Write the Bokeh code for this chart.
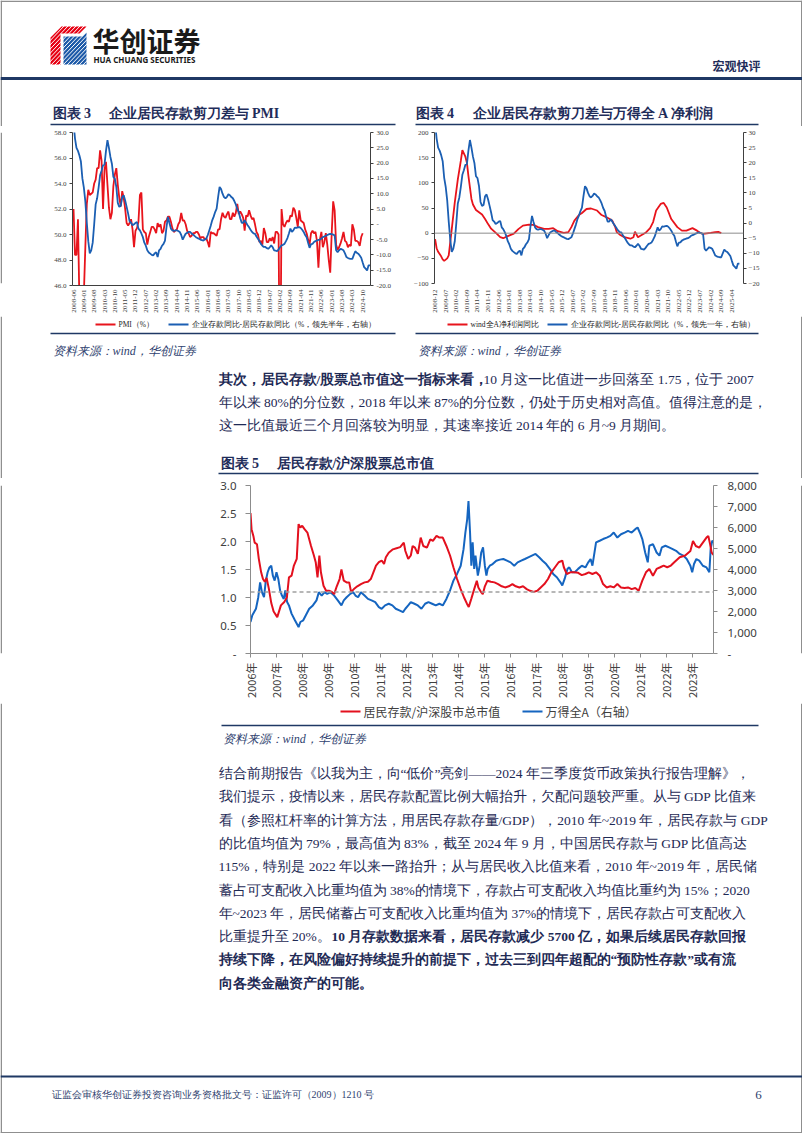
import math
from bokeh.plotting import figure
from bokeh.models import (Range1d, LinearAxis, FixedTicker, Span, Spacer, NumeralTickFormatter)
from bokeh.layouts import column, row
from bokeh.embed import file_html
from bokeh.resources import INLINE
from bokeh.core.properties import value

# ---------------- data: chart 3 / 4 ----------------
pmi_start = "2008-06"
pmi = [52.0, 48.4, 48.4, 51.2, 44.6, 38.8, 41.2,
       45.3, 49.0, 52.4, 53.5, 53.1, 53.2, 53.3, 54.0, 54.3, 55.2, 55.2, 56.6,
       55.8, 52.0, 55.1, 55.7, 53.9, 52.1, 51.2, 51.7, 53.8, 54.7, 55.2, 53.9,
       52.9, 52.2, 53.4, 52.9, 52.0, 50.9, 50.7, 50.9, 51.2, 50.4, 49.0, 50.3,
       50.5, 51.0, 53.1, 53.3, 50.4, 50.2, 50.1, 49.2, 49.8, 50.2, 50.6, 50.6,
       50.4, 50.1, 50.9, 50.6, 50.8, 50.1, 50.3, 51.0, 51.1, 51.4, 51.4, 51.0,
       50.5, 50.2, 50.3, 50.4, 50.8, 51.0, 51.7, 51.1, 51.1, 50.8, 50.3, 50.1,
       49.8, 49.9, 50.1, 50.1, 50.2, 50.2, 50.0, 49.7, 49.8, 49.8, 49.6, 49.7,
       49.4, 49.0, 50.2, 50.1, 50.1, 50.0, 49.9, 50.4, 50.4, 51.2, 51.7, 51.4,
       51.3, 51.6, 51.8, 51.2, 51.2, 51.7, 51.4, 51.7, 52.4, 51.6, 51.8, 51.6,
       51.3, 50.3, 51.5, 51.4, 51.9, 51.5, 51.2, 51.3, 50.8, 50.2, 50.0, 49.4,
       49.5, 49.2, 50.5, 50.1, 49.4, 49.4, 49.7, 49.5, 49.8, 49.3, 50.2, 50.2,
       50.0, 35.7, 52.0, 50.8, 50.6, 50.9, 51.1, 51.0, 51.5, 51.4, 52.1, 51.9,
       51.3, 50.6, 51.9, 51.1, 51.0, 50.9, 50.4, 50.1, 49.6, 49.2, 50.1, 50.3,
       50.1, 50.2, 49.5, 47.4, 49.6, 50.2, 49.0, 49.4, 50.1, 49.2, 48.0, 47.0,
       50.1, 52.6, 51.9, 49.2, 48.8, 49.0, 49.3, 49.7, 50.2, 49.5, 49.4, 49.0,
       49.2, 49.1, 50.8, 50.4, 49.5, 49.5, 49.4, 49.1, 49.8, 50.1]

# corporate deposit yoy minus household deposit yoy (monthly)
scissors = [33.0, 28.0, 25.0, 24.0, 22.5, 20.5, 15.0, 12.0, 7.5, 0.5,
            -5.5, -9.5, -8.5, -6.0, 0.0, 6.5, 8.5, 12.0, 16.0, 17.5,
            19.3, 19.5, 24.0, 27.5, 25.0, 22.0, 19.8, 15.5, 14.9, 12.2,
            7.0, 5.7, 6.0, 8.9, 9.5, 7.8, 5.7, 3.5, 1.0, 0.5,
            -0.3, 0.0, 0.5, 0.7, -1.4, -2.0, -3.0, -4.2, -6.0, -7.0,
            -8.5, -9.2, -9.6, -10.0, -10.2, -9.5, -9.1, -10.7, -8.5, -8.0,
            -7.0, -6.4, -5.3, -1.0, 2.4, 0.4, -1.4, -2.0, -2.2, -2.0,
            -2.0, -2.2, -2.5, -3.5, -5.0, -4.0, -3.1, -2.8, -2.5, -2.5,
            -3.0, -3.3, -3.8, -4.2, -4.5, -4.7, -5.0, -5.2, -5.3, -5.0,
            -4.7, -3.5, -2.0, -0.5, 1.3, 2.5, 4.0, 5.1, 8.9, 12.2,
            11.5, 10.0, 8.9, 8.5, 9.0, 9.8, 9.5, 8.9, 8.5, 7.6,
            6.5, 5.0, 4.0, 2.0, 0.5, 0.5, 1.3, 0.5, -0.3, -1.0,
            -1.8, -2.5, -3.0, -3.1, -4.0, -4.7, -5.5, -6.4, -7.0, -7.4,
            -7.4, -7.8, -8.0, -7.5, -6.9, -7.5, -8.5, -8.6, -8.8, -8.2,
            -7.5, -6.9, -6.7, -6.4, -5.5, -4.5, -3.0, -1.4, -2.5, -2.0,
            -1.1, -1.2, -1.0, -0.9, -1.2, -1.8, -2.5, -3.5, -4.2, -6.0,
            -7.7, -6.5, -6.4, -5.8, -5.5, -5.3, -5.1, -5.0, -4.7, -4.2,
            -4.0, -3.8, -3.5, -3.3, -3.1, -3.2, -3.4, -3.6, -8.5, -9.1,
            -8.5, -8.0, -8.2, -8.5, -9.5, -10.7, -11.0, -11.2, -11.3, -11.3,
            -10.0, -8.8, -9.3, -9.6, -10.2, -10.9, -12.5, -14.0, -14.5, -15.1,
            -13.4, -13.4]
scissors_lead6_start = "2008-06"    # chart 3: led by half a year
scissors_lead12_start = "2008-12"   # chart 4: led by one year

profit_dates = ["2008-12", "2009-01", "2009-02", "2009-04", "2009-05", "2009-06", "2009-08", "2009-09",
                "2009-11", "2010-01", "2010-03", "2010-05", "2010-06", "2010-08", "2010-09", "2010-10",
                "2010-12", "2011-01", "2011-03", "2011-07", "2011-09", "2011-11", "2012-01", "2012-05",
                "2012-07", "2012-09", "2012-12", "2013-04", "2013-07", "2013-10", "2014-02", "2014-05",
                "2014-08", "2014-12", "2015-03", "2015-06", "2015-09", "2016-01", "2016-04", "2016-06",
                "2016-08", "2016-11", "2017-01", "2017-04", "2017-07", "2017-11", "2018-02", "2018-05",
                "2018-09", "2018-11", "2018-12", "2019-02", "2019-05", "2019-09", "2019-11", "2019-12",
                "2020-02", "2020-03", "2020-07", "2020-10", "2020-12", "2021-02", "2021-05", "2021-07",
                "2021-09", "2021-12", "2022-04", "2022-07", "2022-10", "2023-02", "2023-05", "2023-07",
                "2023-09", "2024-02", "2024-05", "2024-07", "2024-09"]
profit_yoy = [-12, -30, -37, -46, -52, -55, -50, -44, 8, 61, 107, 144, 165, 152, 140, 114,
              68, 57, 46, 37, 28, 18, 9, -2, -8, -10, -6, -1, 8, 15, 17, 16.5,
              12, 8.6, 8.6, 10, 4, 0.7, 2, 12, 25, 36, 40, 48, 49, 45, 36, 32,
              25, 12, 2, -3, -8, -11, -8, 3, -8, -6, 0.7, 10, 22, 45, 58, 60,
              51, 28, 12, 5, 5, 10, 5, 0.7, -1.3, 0.7, 2, 2.6, 0]

c3_tick_labels = ["2008-06", "2009-01", "2009-08", "2010-03", "2010-10", "2011-05", "2011-12", "2012-07",
                  "2013-02", "2013-09", "2014-04", "2014-11", "2015-06", "2016-01", "2016-08", "2017-03",
                  "2017-10", "2018-05", "2018-12", "2019-07", "2020-02", "2020-09", "2021-04", "2021-11",
                  "2022-06", "2023-01", "2023-08", "2024-03", "2024-10"]
c4_tick_labels = ["2008-12", "2009-07", "2010-02", "2010-09", "2011-04", "2011-11", "2012-06", "2013-01",
                  "2013-08", "2014-03", "2014-10", "2015-05", "2015-12", "2016-07", "2017-02", "2017-09",
                  "2018-04", "2018-11", "2019-06", "2020-01", "2020-08", "2021-03", "2021-10", "2022-05",
                  "2022-12", "2023-07", "2024-02", "2024-09", "2025-04"]
c3_left_ticks = [46, 48, 50, 52, 54, 56, 58]
c3_right_ticks = [-20, -15, -10, -5, 0, 5, 10, 15, 20, 25, 30]
c4_left_ticks = [-100, -50, 0, 50, 100, 150, 200]
c4_right_ticks = [-20, -15, -10, -5, 0, 5, 10, 15, 20, 25, 30]
c3_series_names = ["PMI（%）", "企业存款同比-居民存款同比（%，领先半年，右轴）"]
c4_series_names = ["wind全A净利润同比", "企业存款同比-居民存款同比（%，领先一年，右轴）"]

# ---------------- data: chart 5 ----------------
ratio_t = [2006.00, 2006.04, 2006.11, 2006.16, 2006.25, 2006.32, 2006.41, 2006.48, 2006.55, 2006.62,
           2006.71, 2006.80, 2006.89, 2007.03, 2007.17, 2007.30, 2007.40, 2007.48, 2007.58, 2007.67,
           2007.78, 2007.85, 2007.92, 2007.99, 2008.08, 2008.19, 2008.33, 2008.44, 2008.51, 2008.58,
           2008.65, 2008.71, 2008.81, 2008.91, 2009.02, 2009.13, 2009.22, 2009.32, 2009.43, 2009.50,
           2009.59, 2009.70, 2009.80, 2009.87, 2009.98, 2010.11, 2010.25, 2010.39, 2010.52, 2010.63,
           2010.73, 2010.83, 2010.94, 2011.05, 2011.14, 2011.21, 2011.32, 2011.48, 2011.62, 2011.76,
           2011.90, 2011.96, 2012.07, 2012.17, 2012.24, 2012.33, 2012.44, 2012.55, 2012.65, 2012.79,
           2012.92, 2013.02, 2013.16, 2013.27, 2013.40, 2013.54, 2013.68, 2013.81, 2013.95, 2014.09,
           2014.22, 2014.33, 2014.40, 2014.50, 2014.61, 2014.71, 2014.77, 2014.87, 2014.94, 2015.02,
           2015.12, 2015.25, 2015.39, 2015.53, 2015.67, 2015.80, 2015.94, 2016.08, 2016.21, 2016.35,
           2016.49, 2016.63, 2016.76, 2016.90, 2017.04, 2017.17, 2017.31, 2017.45, 2017.58, 2017.72,
           2017.86, 2018.00, 2018.06, 2018.17, 2018.31, 2018.45, 2018.61, 2018.75, 2018.89, 2019.02,
           2019.16, 2019.30, 2019.44, 2019.57, 2019.71, 2019.85, 2019.98, 2020.12, 2020.26, 2020.40,
           2020.53, 2020.67, 2020.81, 2020.94, 2021.08, 2021.22, 2021.35, 2021.49, 2021.63, 2021.77,
           2021.90, 2022.04, 2022.18, 2022.31, 2022.52, 2022.73, 2022.93, 2023.03, 2023.14, 2023.27,
           2023.41, 2023.55, 2023.62, 2023.69, 2023.75, 2023.82]
ratio = [2.51, 2.22, 2.10, 1.98, 1.95, 1.69, 1.45, 1.33, 1.28, 1.35,
         1.15, 0.90, 0.75, 0.65, 0.86, 0.92, 1.00, 1.36, 1.39, 1.57,
         1.69, 2.31, 2.25, 2.28, 2.22, 2.16, 1.92, 1.75, 1.63, 1.36,
         1.75, 1.45, 1.21, 1.12, 1.12, 1.10, 1.06, 1.20, 1.33, 1.50,
         1.30, 1.27, 1.27, 1.10, 1.15, 1.20, 1.24, 1.27, 1.28, 1.33,
         1.45, 1.57, 1.63, 1.66, 1.60, 1.72, 1.80, 1.86, 1.88, 1.90,
         1.98, 1.83, 1.69, 1.75, 1.92, 1.89, 1.78, 2.07, 1.92, 1.89,
         2.04, 2.01, 2.10, 2.07, 2.07, 1.92, 1.75, 1.54, 1.33, 1.15,
         1.00, 0.89, 0.83, 0.98, 1.15, 1.30, 1.18, 1.10, 1.06, 1.20,
         1.30, 1.28, 1.27, 1.24, 1.20, 1.18, 1.20, 1.24, 1.20, 1.18,
         1.20, 1.15, 1.12, 1.10, 1.12, 1.18, 1.24, 1.33, 1.45, 1.54,
         1.63, 1.66, 1.54, 1.42, 1.45, 1.45, 1.44, 1.40, 1.42, 1.45,
         1.42, 1.45, 1.39, 1.24, 1.18, 1.20, 1.18, 1.24, 1.18, 1.17,
         1.18, 1.15, 1.17, 1.12, 1.30, 1.45, 1.51, 1.39, 1.51, 1.54,
         1.57, 1.54, 1.57, 1.63, 1.72, 1.75, 1.83, 2.01, 1.92, 1.89,
         1.98, 2.07, 2.10, 1.95, 1.80, 1.76]
wind_t = [2006.00, 2006.07, 2006.21, 2006.30, 2006.37, 2006.44, 2006.52, 2006.59, 2006.66, 2006.73,
          2006.80, 2006.86, 2006.93, 2007.00, 2007.07, 2007.14, 2007.21, 2007.28, 2007.34, 2007.41,
          2007.48, 2007.58, 2007.71, 2007.85, 2007.92, 2008.03, 2008.13, 2008.26, 2008.40, 2008.54,
          2008.63, 2008.74, 2008.85, 2008.95, 2009.08, 2009.22, 2009.36, 2009.50, 2009.59, 2009.70,
          2009.84, 2009.95, 2010.04, 2010.14, 2010.25, 2010.39, 2010.52, 2010.66, 2010.80, 2010.94,
          2011.05, 2011.18, 2011.32, 2011.46, 2011.59, 2011.73, 2011.87, 2011.96, 2012.07, 2012.17,
          2012.31, 2012.44, 2012.58, 2012.72, 2012.85, 2012.99, 2013.13, 2013.27, 2013.40, 2013.54,
          2013.68, 2013.81, 2013.95, 2014.09, 2014.20, 2014.27, 2014.34, 2014.39, 2014.45, 2014.50,
          2014.55, 2014.61, 2014.66, 2014.75, 2014.82, 2014.88, 2014.95, 2015.02, 2015.08, 2015.13,
          2015.21, 2015.32, 2015.46, 2015.60, 2015.73, 2015.87, 2016.01, 2016.15, 2016.28, 2016.42,
          2016.56, 2016.69, 2016.83, 2016.97, 2017.11, 2017.24, 2017.38, 2017.52, 2017.65, 2017.79,
          2017.93, 2018.00, 2018.09, 2018.20, 2018.27, 2018.37, 2018.48, 2018.61, 2018.75, 2018.89,
          2019.00, 2019.09, 2019.16, 2019.30, 2019.44, 2019.57, 2019.71, 2019.85, 2019.98, 2020.12,
          2020.26, 2020.40, 2020.53, 2020.67, 2020.81, 2020.90, 2021.01, 2021.08, 2021.19, 2021.29,
          2021.35, 2021.49, 2021.63, 2021.74, 2021.83, 2021.97, 2022.11, 2022.25, 2022.38, 2022.52,
          2022.66, 2022.79, 2022.93, 2023.00, 2023.07, 2023.16, 2023.27, 2023.41, 2023.55, 2023.66,
          2023.71, 2023.77, 2023.82]
wind_a = [1500, 1820, 2130, 2680, 3390, 2920, 2680, 3470, 3870, 4100,
          4180, 3710, 3470, 3870, 3550, 3000, 2760, 2600, 3000, 2450,
          2290, 1900, 1580, 1260, 1500, 1580, 1820, 2130, 2290, 2530,
          2920, 2760, 2920, 2840, 2920, 2760, 2530, 2290, 2530, 2680,
          2840, 2920, 2760, 2680, 2920, 2760, 2600, 2530, 2450, 2210,
          2130, 2290, 2370, 2290, 2130, 2050, 1970, 2130, 2290, 2450,
          2370, 2290, 2130, 2370, 2450, 2370, 2290, 2370, 2290, 2600,
          3000, 3470, 3790, 4180, 4970, 5760, 6390, 7260, 5760, 4180,
          5290, 4030, 4660, 3710, 4180, 4810, 5050, 4180, 3710, 4030,
          4180, 4260, 4420, 4470, 4500, 4420, 4340, 4180, 4340, 4420,
          4500, 4580, 4660, 4740, 4580, 4420, 4260, 4030, 3790, 3630,
          3390, 3240, 3550, 4030, 4100, 3870, 3870, 4030, 4180, 4100,
          4340, 4500, 4180, 5290, 5370, 5450, 5520, 5600, 5760, 5520,
          5680, 5760, 5840, 5760, 5920, 6000, 5680, 5450, 4810, 4340,
          5130, 5210, 4810, 4660, 5050, 5130, 5050, 4970, 4890, 4740,
          4660, 4500, 4180, 3870, 4260, 4500, 4420, 4180, 4100, 3870,
          4970, 5370, 5290]
ratio_ref_level = 1.1
c5_year_labels = ["2006年", "2007年", "2008年", "2009年", "2010年", "2011年", "2012年", "2013年", "2014年",
                  "2015年", "2016年", "2017年", "2018年", "2019年", "2020年", "2021年", "2022年", "2023年"]
c5_left_ticks = [0, 0.5, 1.0, 1.5, 2.0, 2.5, 3.0]
c5_right_ticks = [0, 1000, 2000, 3000, 4000, 5000, 6000, 7000, 8000]
c5_series_names = ["居民存款/沪深股市总市值", "万得全A（右轴）"]

# ---------------- styles ----------------
NAVY = "#1F3864"
TXT = "#1E2A55"
TITLE = "#1F2D5A"
SRC = "#2F3F6F"
RED = "#E8141C"
BLUE = "#1B5FB3"
RED5 = "#E3101E"
BLUE5 = "#1565C0"
AX = "#404040"
EDGE = "#8F8F8F"
SERIF = "Liberation Serif"
W = 802
H = 1133


def ym_index(s, base):
    y, m = (int(v) for v in s.split("-"))
    by, bm = (int(v) for v in base.split("-"))
    return (y - by) * 12 + (m - bm)


def canvas(top, bottom, x0=0, x1=W):
    p = figure(width=x1 - x0, height=bottom - top, x_range=Range1d(x0, x1), y_range=Range1d(bottom, top),
               output_backend="svg", toolbar_location=None, min_border=0,
               x_axis_type=None, y_axis_type=None)
    p.outline_line_color = None
    # thin grey page edge, as on the scanned page
    if x0 == 0:
        p.line(x=[0.75, 0.75], y=[top, bottom], line_color=EDGE, line_width=1.5)
    if x1 == W:
        p.line(x=[W - 0.75, W - 0.75], y=[top, bottom], line_color=EDGE, line_width=1.5)
    if top == 0:
        p.line(x=[x0, x1], y=[0.75, 0.75], line_color=EDGE, line_width=1.5)
    if bottom == H:
        p.line(x=[x0, x1], y=[H - 0.75, H - 0.75], line_color=EDGE, line_width=1.5)
    return p


def put(p, x, y, s, size, color=TXT, font=SERIF, style="normal", align="left"):
    p.text(x=[x], y=[y], text=[s], text_font=value(font), text_font_size=f"{size}px",
           text_color=color, text_font_style=style, text_align=align, text_baseline="middle")


def rule(p, x0, x1, y, w, color=NAVY):
    p.line(x=[x0, x1], y=[y, y], line_color=color, line_width=w)


def key(p, x, y, name, color, lw, size, font, tcolor="#222222"):
    # legend key: short line sample followed by the series name
    p.line(x=[x, x + 20], y=[y, y], line_color=color, line_width=lw)
    put(p, x + 23, y, name, size, tcolor, font)


def style_axis(ax, size, font, color=AX, line=AX, tick_out=3, standoff=3):
    ax.major_label_text_font_size = size
    ax.major_label_text_font = font
    ax.major_label_text_color = color
    ax.axis_line_color = line
    ax.major_tick_line_color = line
    ax.major_tick_out = tick_out
    ax.major_tick_in = 0
    ax.minor_tick_line_color = None
    ax.major_label_standoff = standoff


# ---------------- header canvas (page y 0-126) ----------------
hdr = canvas(0, 126)
hdr.patches(xs=[[50, 61, 86, 79, 60, 60, 50], [63, 82, 86, 86, 63]],
            ys=[[37, 26, 26, 33, 33, 64, 64], [36, 36, 32, 64, 64]],
            fill_color=["#E60012", "#1D5AA8"], line_color=None)
hdr.multi_line(xs=[[46 + 4 * k, 84 + 4 * k] for k in range(-10, 11)],
               ys=[[65, 25] for k in range(-10, 11)], line_color="white", line_width=1)
hdr.patches(xs=[[36, 49, 49, 36], [87, 98, 98, 87]], ys=[[20, 20, 70, 70], [20, 20, 70, 70]],
            fill_color="white", line_color=None)
put(hdr, 92, 40, "华创证券", 27, "#1a1a1a", "Noto Sans CJK SC", "bold")
put(hdr, 93, 59, "HUA CHUANG SECURITIES", 8, "#1a1a1a", "Noto Sans", "bold")
put(hdr, 760, 65, "宏观快评", 12, TITLE, "Noto Sans CJK SC", "bold", "right")
rule(hdr, 0, W, 78, 3)
put(hdr, 52, 113, "图表 3", 14, TITLE, SERIF, "bold")
put(hdr, 108, 113, "企业居民存款剪刀差与 PMI", 14, TITLE, SERIF, "bold")
put(hdr, 415, 113, "图表 4", 14, TITLE, SERIF, "bold")
put(hdr, 472, 113, "企业居民存款剪刀差与万得全 A 净利润", 14, TITLE, SERIF, "bold")
rule(hdr, 50, 395, 124, 1.5)
rule(hdr, 415, 758, 124, 1.5)

# ---------------- chart 3 (page y 126-316) ----------------
c3 = figure(frame_width=298, frame_height=153, x_range=Range1d(-0.7, 201.3), y_range=Range1d(46, 58),
            output_backend="svg", toolbar_location=None,
            min_border_left=24, min_border_right=28, min_border_top=5, min_border_bottom=32)
c3.extra_y_ranges = {"r": Range1d(-20, 30)}
c3.add_layout(LinearAxis(y_range_name="r"), "right")
c3.grid.visible = False
c3.outline_line_color = None
pmi_x = [i + ym_index(pmi_start, "2008-06") for i in range(len(pmi))]
sc3_x = [i + ym_index(scissors_lead6_start, "2008-06") for i in range(len(scissors))]
c3.line(pmi_x, pmi, line_color=RED, line_width=1.8)
c3.line(sc3_x, scissors, y_range_name="r", line_color=BLUE, line_width=1.8)
xt = [ym_index(s, "2008-06") for s in c3_tick_labels]
c3.xaxis.ticker = FixedTicker(ticks=xt)
c3.xaxis.major_label_overrides = {t: s for t, s in zip(xt, c3_tick_labels)}
c3.xaxis.major_label_orientation = math.pi / 2
style_axis(c3.xaxis[0], "7px", SERIF, tick_out=0, standoff=4)
la = c3.left[0]
la.ticker = FixedTicker(ticks=c3_left_ticks)
la.formatter = NumeralTickFormatter(format="0.0")
style_axis(la, "7px", SERIF)
ra = c3.right[0]
ra.ticker = FixedTicker(ticks=c3_right_ticks)
ra.formatter = NumeralTickFormatter(format="0.0")
ra.major_label_overrides = {0: "-"}
style_axis(ra, "7px", SERIF)

# ---------------- chart 4 ----------------
c4 = figure(frame_width=309, frame_height=151, x_range=Range1d(-0.4, 203.7), y_range=Range1d(-100, 200),
            output_backend="svg", toolbar_location=None,
            min_border_left=24, min_border_right=17, min_border_top=6, min_border_bottom=33)
c4.extra_y_ranges = {"r": Range1d(-20, 30)}
c4.add_layout(LinearAxis(y_range_name="r"), "right")
c4.grid.visible = False
c4.outline_line_color = None
c4.add_layout(Span(location=0, dimension="width", line_color="#8C8C8C", line_width=1))
pr_x = [ym_index(s, "2008-12") for s in profit_dates]
sc4_x = [i + ym_index(scissors_lead12_start, "2008-12") for i in range(len(scissors))]
c4.line(pr_x, profit_yoy, line_color=RED, line_width=1.8)
c4.line(sc4_x, scissors, y_range_name="r", line_color=BLUE, line_width=1.8)
xt4 = [ym_index(s, "2008-12") for s in c4_tick_labels]
c4.xaxis.ticker = FixedTicker(ticks=xt4)
c4.xaxis.major_label_overrides = {t: s for t, s in zip(xt4, c4_tick_labels)}
c4.xaxis.major_label_orientation = math.pi / 2
style_axis(c4.xaxis[0], "7px", SERIF, line=None, tick_out=0, standoff=6)
la4 = c4.left[0]
la4.ticker = FixedTicker(ticks=c4_left_ticks)
style_axis(la4, "7px", SERIF)
ra4 = c4.right[0]
ra4.ticker = FixedTicker(ticks=c4_right_ticks)
style_axis(ra4, "7px", SERIF, standoff=2)

# ---------------- middle canvas (page y 316-478) ----------------
mid = canvas(316, 478)
key(mid, 95, 324, c3_series_names[0], RED, 1.8, 7.5, SERIF)
key(mid, 168, 324, c3_series_names[1], BLUE, 1.8, 7.5, SERIF)
key(mid, 447, 324, c4_series_names[0], RED, 1.8, 7.5, SERIF)
key(mid, 547, 324, c4_series_names[1], BLUE, 1.8, 7.5, SERIF)
rule(mid, 50, 395, 333, 1.5)
rule(mid, 415, 758, 333, 1.5)
put(mid, 52, 350, "资料来源：wind，华创证券", 12, SRC, SERIF, "italic")
put(mid, 417, 350, "资料来源：wind，华创证券", 12, SRC, SERIF, "italic")
P = 13.5
put(mid, 218, 379, "其次，居民存款/股票总市值这一指标来看，", P, TXT, SERIF, "bold")
put(mid, 483, 379, "10 月这一比值进一步回落至 1.75，位于 2007", P)
put(mid, 218, 402, "年以来 80%的分位数，2018 年以来 87%的分位数，仍处于历史相对高值。值得注意的是，", P)
put(mid, 218, 425, "这一比值最近三个月回落较为明显，其速率接近 2014 年的 6 月~9 月期间。", P)
put(mid, 220, 463, "图表 5", 14, TITLE, SERIF, "bold")
put(mid, 276, 463, "居民存款/沪深股票总市值", 14, TITLE, SERIF, "bold")
rule(mid, 218, 758, 473, 1.5)

# ---------------- chart 5 (page y 478-703) ----------------
c5 = figure(frame_width=463, frame_height=168, x_range=Range1d(2006.0, 2023.82), y_range=Range1d(0, 3),
            output_backend="svg", toolbar_location=None,
            min_border_left=42, min_border_right=57, min_border_top=7, min_border_bottom=50)
c5.extra_y_ranges = {"r": Range1d(0, 8000)}
c5.add_layout(LinearAxis(y_range_name="r"), "right")
c5.grid.visible = False
c5.outline_line_color = None
c5.add_layout(Span(location=ratio_ref_level, dimension="width", line_color="#A0A0A0",
                   line_width=1.5, line_dash="4 3"))
c5.line(wind_t, wind_a, y_range_name="r", line_color=BLUE5, line_width=2)
c5.line(ratio_t, ratio, line_color=RED5, line_width=2)
yt = [int(s[:4]) for s in c5_year_labels]
c5.xaxis.ticker = FixedTicker(ticks=yt)
c5.xaxis.major_label_overrides = {t: s for t, s in zip(yt, c5_year_labels)}
c5.xaxis.major_label_orientation = math.pi / 2
style_axis(c5.xaxis[0], "11px", "Noto Sans CJK SC", color="#404040", line="#8C8C8C",
           tick_out=4, standoff=5)
la5 = c5.left[0]
la5.ticker = FixedTicker(ticks=c5_left_ticks)
la5.formatter = NumeralTickFormatter(format="0.0")
la5.major_label_overrides = {0: "-"}
style_axis(la5, "11.5px", "Noto Sans", color="#404040", line="#8C8C8C", tick_out=5, standoff=9)
ra5 = c5.right[0]
ra5.ticker = FixedTicker(ticks=c5_right_ticks)
ra5.formatter = NumeralTickFormatter(format="0,0")
ra5.major_label_overrides = {0: "-"}
style_axis(ra5, "11.5px", "Noto Sans", color="#404040", line="#8C8C8C", tick_out=4, standoff=10)

# ---------------- bottom canvas (page y 703-1133) ----------------
bot = canvas(703, H)
key(bot, 340, 711, c5_series_names[0], RED5, 2, 12, "Noto Sans CJK SC", "#404040")
key(bot, 522, 711, c5_series_names[1], BLUE5, 2, 12, "Noto Sans CJK SC", "#404040")
rule(bot, 221, 758, 725, 1.5)
put(bot, 222, 738, "资料来源：wind，华创证券", 12, SRC, SERIF, "italic")
para2 = ["结合前期报告《以我为主，向“低价”亮剑——2024 年三季度货币政策执行报告理解》，",
         "我们提示，疫情以来，居民存款配置比例大幅抬升，欠配问题较严重。从与 GDP 比值来",
         "看（参照杠杆率的计算方法，用居民存款存量/GDP），2010 年~2019 年，居民存款与 GDP",
         "的比值均值为 79%，最高值为 83%，截至 2024 年 9 月，中国居民存款与 GDP 比值高达",
         "115%，特别是 2022 年以来一路抬升；从与居民收入比值来看，2010 年~2019 年，居民储",
         "蓄占可支配收入比重均值为 38%的情境下，存款占可支配收入均值比重约为 15%；2020",
         "年~2023 年，居民储蓄占可支配收入比重均值为 37%的情境下，居民存款占可支配收入"]
y0, dy = 773, 23.3
for i, s in enumerate(para2):
    put(bot, 218, y0 + i * dy, s, P)
put(bot, 218, y0 + 7 * dy, "比重提升至 20%。", P)
put(bot, 331, y0 + 7 * dy, "10 月存款数据来看，居民存款减少 5700 亿，如果后续居民存款回报", P, TXT, SERIF, "bold")
put(bot, 218, y0 + 8 * dy, "持续下降，在风险偏好持续提升的前提下，过去三到四年超配的“预防性存款”或有流", P, TXT, SERIF, "bold")
put(bot, 218, y0 + 9 * dy, "向各类金融资产的可能。", P, TXT, SERIF, "bold")
rule(bot, 0, W, 1076, 2)
put(bot, 51, 1094, "证监会审核华创证券投资咨询业务资格批文号：证监许可（2009）1210 号", 10, SRC)
put(bot, 758, 1094, "6", 13, SRC, SERIF, "normal", "center")

top_row = row(canvas(126, 316, 0, 48), c3, Spacer(width=12, height=190), c4, canvas(126, 316, 760, W))
c5_row = row(canvas(478, 703, 0, 208), c5, canvas(478, 703, 770, W))
page = column(hdr, top_row, mid, c5_row, bot)

open("out.html", "w").write(file_html(page, INLINE, title="宏观快评"))
